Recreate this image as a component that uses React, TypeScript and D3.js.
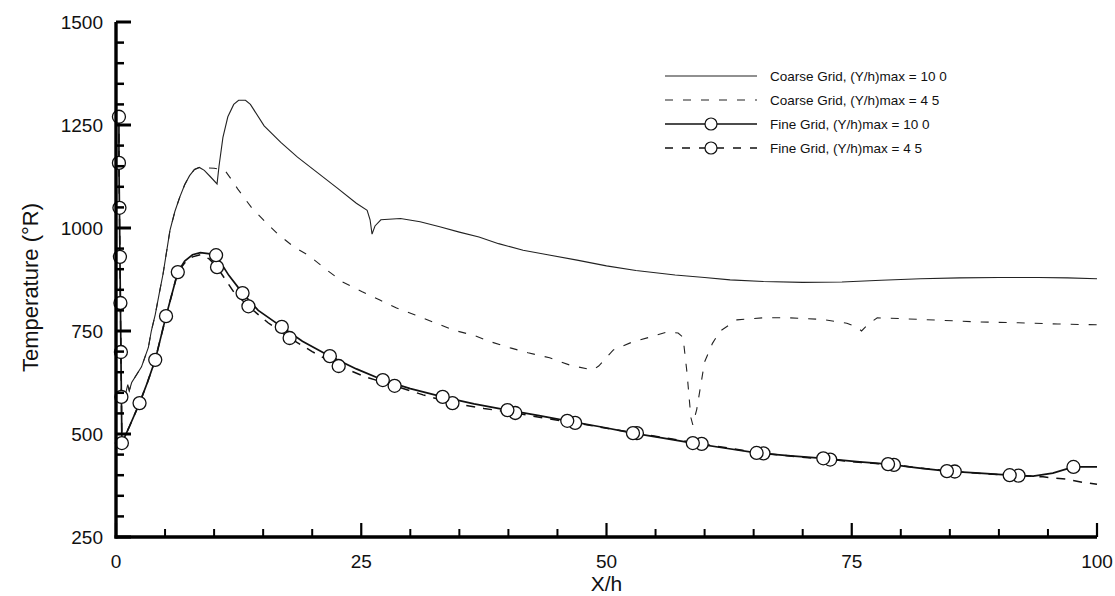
import React from "react";
import * as d3 from "d3";

type P = [number, number];

const coarse10: P[] = [
  [0.6, 585], [1.0, 600], [1.2, 620], [1.35, 605], [1.6, 625], [2.6, 663], [3.3, 710], [3.6, 750],
  [4.0, 790], [4.4, 840], [4.8, 889], [5.5, 994], [6.0, 1040], [6.5, 1075], [7.0, 1105], [7.5, 1127],
  [8.0, 1142], [8.5, 1147], [9.0, 1140], [9.6, 1125], [10.3, 1107], [10.5, 1150], [10.9, 1220],
  [11.4, 1270], [12.0, 1300], [12.5, 1310], [13.2, 1310], [13.7, 1300], [15.1, 1248], [16.8, 1208],
  [18.5, 1172], [20.5, 1135], [22.5, 1098], [24.5, 1060], [25.6, 1043], [25.9, 1020], [26.1, 985],
  [26.4, 1005], [27, 1020], [29, 1023], [31, 1015], [33, 1003], [35, 990], [37, 978], [39, 962],
  [41.5, 946], [44, 935], [47, 922], [50, 908], [53, 897], [57, 886], [60, 880], [62.6, 874],
  [66, 870], [70, 868], [74, 869], [78, 873], [82, 877], [86, 879], [90, 880], [94, 880], [97, 879],
  [100, 877],
];

const coarse45: P[] = [
  [0.6, 585], [1.0, 600], [1.2, 620], [1.35, 605], [1.6, 625], [2.6, 663], [3.3, 710], [3.6, 750],
  [4.0, 790], [4.4, 840], [4.8, 889], [5.5, 994], [6.0, 1040], [6.5, 1075], [7.0, 1105], [7.5, 1127],
  [8.0, 1142], [8.5, 1147], [9.2, 1146], [10.0, 1145], [11.1, 1140], [11.7, 1120],
  [12.4, 1095], [13.8, 1050], [15.1, 1018], [16.5, 985], [18.2, 953], [19.6, 934], [21.5, 898],
  [23.1, 869], [25.1, 845], [26.9, 825], [28.6, 806], [30.5, 789], [32.3, 772], [34.4, 752],
  [36.4, 740], [38.3, 723], [40.2, 709], [42, 697], [44.2, 685], [46.3, 667], [48.6, 655],
  [49.2, 665], [50.7, 704], [52.5, 722], [54.4, 735], [56.2, 748], [57.3, 745], [57.8, 735],
  [58.2, 650], [58.6, 540], [58.8, 522], [59.2, 560], [60.0, 675], [60.8, 720], [61.6, 750],
  [63.3, 777], [66, 782], [68.7, 782], [72, 778], [74.5, 769], [75.5, 760], [76, 750], [76.6, 765],
  [77.6, 782], [80, 780], [84, 776], [88, 772], [92, 770], [96, 767], [100, 765],
];

const fine10: P[] = [
  [0.3, 1270], [0.3, 1158], [0.35, 1049], [0.4, 930], [0.45, 818], [0.5, 699], [0.55, 590],
  [0.6, 478], [1.4, 520], [2.4, 575], [3.2, 625], [4.0, 680], [5.1, 786], [6.3, 893], [7.0, 920],
  [7.8, 935], [8.6, 940], [9.4, 938], [10.2, 934], [11.5, 885], [12.9, 842], [14.5, 800],
  [16.9, 760], [19, 725], [21.8, 689], [24.5, 658], [27.2, 631], [30, 610], [33.3, 590],
  [36.5, 573], [39.9, 558], [43, 545], [46, 532], [49.5, 517], [52.7, 502], [55.8, 490],
  [58.8, 478], [62, 466], [65.3, 454], [68.8, 447], [72.1, 441], [75.5, 433], [78.7, 427],
  [81.7, 418], [84.7, 410], [88, 405], [91.1, 400], [93.5, 398], [95.5, 405], [97.6, 420],
  [100, 420],
];

const fine45: P[] = [
  [0.3, 1270], [0.3, 1158], [0.35, 1049], [0.4, 930], [0.45, 818], [0.5, 699], [0.55, 590],
  [0.6, 478], [1.4, 520], [2.4, 575], [3.2, 625], [4.0, 680], [5.1, 786], [6.3, 893], [7.0, 915],
  [7.8, 930], [8.6, 935], [9.5, 925], [10.3, 905], [12, 845], [13.5, 810], [15.5, 770],
  [17.7, 733], [20, 700], [22.7, 665], [25.5, 638], [28.4, 617], [31.3, 595], [34.3, 575],
  [37.5, 562], [40.7, 551], [43.8, 538], [46.8, 527], [50, 514], [53.1, 502], [56.4, 489],
  [59.7, 476], [62.9, 464], [66, 453], [69.4, 445], [72.8, 438], [76, 431], [79.3, 425],
  [82.4, 416], [85.5, 409], [88.8, 403], [92, 399], [94.5, 396], [97, 390], [98.5, 383],
  [100, 378],
];

const fine10Markers: P[] = [
  [0.3, 1270], [0.3, 1158], [0.35, 1049], [0.4, 930], [0.45, 818], [0.5, 699], [0.55, 590],
  [0.6, 478], [2.4, 575], [4.0, 680], [5.1, 786], [6.3, 893], [10.2, 934], [12.9, 842],
  [16.9, 760], [21.8, 689], [27.2, 631], [33.3, 590], [39.9, 558], [46, 532], [52.7, 502],
  [58.8, 478], [65.3, 454], [72.1, 441], [78.7, 427], [84.7, 410], [91.1, 400], [97.6, 420],
];

const fine45Markers: P[] = [
  [10.3, 905], [13.5, 810], [17.7, 733], [22.7, 665], [28.4, 617], [34.3, 575], [40.7, 551],
  [46.8, 527], [53.1, 502], [59.7, 476], [66, 453], [72.8, 438], [79.3, 425], [85.5, 409],
  [92, 399],
];

const xTicks = [0, 25, 50, 75, 100];
const yTicks = [250, 500, 750, 1000, 1250, 1500];

const legendLabels = [
  "Coarse Grid, (Y/h)max = 10 0",
  "Coarse Grid, (Y/h)max = 4 5",
  "Fine Grid, (Y/h)max = 10 0",
  "Fine Grid, (Y/h)max = 4 5",
];

const W = 1115;
const H = 596;
const FONT = "'Liberation Sans', Arial, Helvetica, sans-serif";

export default function App() {
  const x = d3.scaleLinear().domain([0, 100]).range([116, 1097]);
  const y = d3.scaleLinear().domain([250, 1500]).range([537, 22]);
  const line = d3
    .line<P>()
    .x((d) => x(d[0]))
    .y((d) => y(d[1]))
    .curve(d3.curveLinear);

  const xMinor = d3.range(0, 101, 5);
  const yMinor = d3.range(250, 1501, 50);

  const legendX0 = 665;
  const legendX1 = 757;
  const legendTextX = 770;
  const legendRows = [76, 100, 124, 148];

  return (
    <svg
      width={W}
      height={H}
      style={{ position: "absolute", left: 0, top: 0, background: "#fff" }}
      fontFamily={FONT}
    >
      <rect x={0} y={0} width={W} height={H} fill="#fff" />

      {/* data lines */}
      <path d={line(coarse10) || ""} fill="none" stroke="#222" strokeWidth={1.1} />
      <path d={line(coarse45) || ""} fill="none" stroke="#222" strokeWidth={1.1} strokeDasharray="8,10" />
      <path d={line(fine45) || ""} fill="none" stroke="#111" strokeWidth={1.5} strokeDasharray="9,8" />
      <path d={line(fine10) || ""} fill="none" stroke="#111" strokeWidth={1.7} />

      {fine45Markers.map((d, i) => (
        <circle key={"m45" + i} cx={x(d[0])} cy={y(d[1])} r={6.5} fill="#fff" stroke="#111" strokeWidth={1.3} />
      ))}
      {fine10Markers.map((d, i) => (
        <circle key={"m10" + i} cx={x(d[0])} cy={y(d[1])} r={6.5} fill="#fff" stroke="#111" strokeWidth={1.3} />
      ))}

      {/* axes */}
      <line x1={x(0)} x2={x(0)} y1={y(250) + 1.5} y2={y(1500)} stroke="#000" strokeWidth={3.4} />
      <line x1={x(0) - 1.5} x2={x(100)} y1={y(250)} y2={y(250)} stroke="#000" strokeWidth={3.4} />

      {yMinor.map((v) => {
        const major = v % 250 === 0;
        return (
          <line
            key={"yt" + v}
            x1={x(0)}
            x2={x(0) + (major ? 15 : 8)}
            y1={y(v)}
            y2={y(v)}
            stroke="#000"
            strokeWidth={major ? 3 : 2.5}
          />
        );
      })}
      {xMinor.map((v) => {
        const major = v % 25 === 0;
        return (
          <line
            key={"xt" + v}
            x1={x(v)}
            x2={x(v)}
            y1={y(250)}
            y2={y(250) - (major ? 14 : 8)}
            stroke="#000"
            strokeWidth={major ? 2.2 : 2}
          />
        );
      })}

      {yTicks.map((v) => (
        <text
          key={"yl" + v}
          x={103}
          y={y(v)}
          dy="0.36em"
          textAnchor="end"
          fontSize={19}
          fill="#111"
        >
          {v}
        </text>
      ))}
      {xTicks.map((v) => (
        <text key={"xl" + v} x={x(v)} y={568} textAnchor="middle" fontSize={19} fill="#111">
          {v}
        </text>
      ))}

      <text x={x(50)} y={591} textAnchor="middle" fontSize={21} fill="#111">
        X/h
      </text>
      <text
        transform={`translate(38, ${(y(250) + y(1500)) / 2 + 8}) rotate(-90)`}
        textAnchor="middle"
        fontSize={22}
        fill="#111"
      >
        Temperature  (°R)
      </text>

      {/* legend */}
      <line x1={legendX0} x2={legendX1} y1={legendRows[0]} y2={legendRows[0]} stroke="#222" strokeWidth={1.1} />
      <line
        x1={legendX0}
        x2={legendX1}
        y1={legendRows[1]}
        y2={legendRows[1]}
        stroke="#222"
        strokeWidth={1.1}
        strokeDasharray="8,10"
      />
      <line x1={legendX0} x2={legendX1} y1={legendRows[2]} y2={legendRows[2]} stroke="#111" strokeWidth={1.5} />
      <circle cx={(legendX0 + legendX1) / 2} cy={legendRows[2]} r={6} fill="#fff" stroke="#111" strokeWidth={1.2} />
      <line
        x1={legendX0}
        x2={legendX1}
        y1={legendRows[3]}
        y2={legendRows[3]}
        stroke="#111"
        strokeWidth={1.3}
        strokeDasharray="8,9"
      />
      <circle cx={(legendX0 + legendX1) / 2} cy={legendRows[3]} r={6} fill="#fff" stroke="#111" strokeWidth={1.2} />
      {legendLabels.map((t, i) => (
        <text key={"lg" + i} x={legendTextX} y={legendRows[i]} dy="0.35em" fontSize={13.5} fill="#111">
          {t}
        </text>
      ))}
    </svg>
  );
}
